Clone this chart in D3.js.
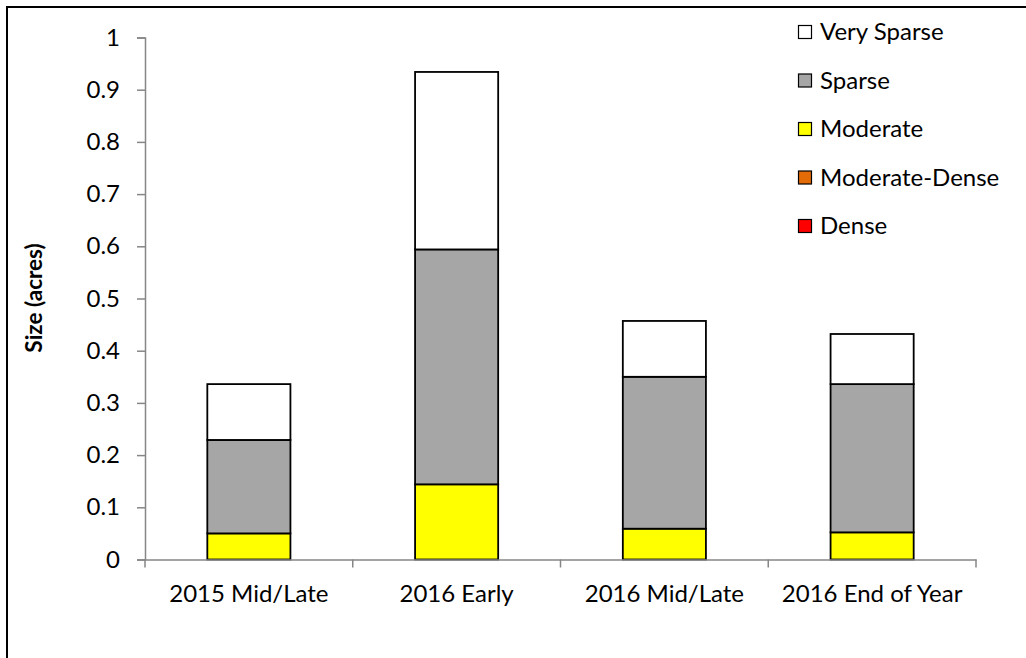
<!DOCTYPE html>
<html>
<head>
<meta charset="utf-8">
<script src="https://cdn.jsdelivr.net/npm/d3@7"></script>
<style>
  html, body { margin: 0; padding: 0; background: #fff; }
  svg { display: block; }
  text { font-family: Lato, "Liberation Sans", sans-serif; fill: #000; }
</style>
</head>
<body>
<svg id="chart" width="1026" height="658"></svg>
<script>
const categories = ["2015 Mid/Late", "2016 Early", "2016 Mid/Late", "2016 End of Year"];
const seriesNames = ["Dense", "Moderate-Dense", "Moderate", "Sparse", "Very Sparse"];
const dense        = [0, 0, 0, 0];
const moderateDense= [0, 0, 0, 0];
const moderate     = [0.050, 0.144, 0.059, 0.052];
const sparse       = [0.179, 0.450, 0.291, 0.284];
const verySparse   = [0.107, 0.340, 0.107, 0.096];
const yTicks = [0, 0.1, 0.2, 0.3, 0.4, 0.5, 0.6, 0.7, 0.8, 0.9, 1];
const legendOrder = ["Very Sparse", "Sparse", "Moderate", "Moderate-Dense", "Dense"];
const colors = {
  "Dense": "#ff0000",
  "Moderate-Dense": "#e36c09",
  "Moderate": "#ffff00",
  "Sparse": "#a6a6a6",
  "Very Sparse": "#ffffff"
};

const seriesValues = {
  "Dense": dense, "Moderate-Dense": moderateDense, "Moderate": moderate,
  "Sparse": sparse, "Very Sparse": verySparse
};
const table = categories.map((c, i) => {
  const row = { category: c };
  seriesNames.forEach(s => row[s] = seriesValues[s][i]);
  return row;
});

const svg = d3.select("#chart");

// outer border
svg.append("rect").attr("x", 7).attr("y", 7).attr("width", 1040).attr("height", 670)
  .attr("fill", "none").attr("stroke", "#000").attr("stroke-width", 2);

const x = d3.scaleBand().domain(categories).range([145, 976]).paddingInner(0.6).paddingOuter(0.3);
const y = d3.scaleLinear().domain([0, 1]).range([559.5, 37.5]);

const stack = d3.stack().keys(seriesNames);
const stacked = stack(table);

const g = svg.append("g");
stacked.forEach(layer => {
  g.selectAll(null).data(layer.filter(d => d[1] - d[0] > 0)).enter().append("rect")
    .attr("x", d => x(d.data.category))
    .attr("width", x.bandwidth())
    .attr("y", d => y(d[1]))
    .attr("height", d => y(d[0]) - y(d[1]))
    .attr("fill", colors[layer.key])
    .attr("stroke", "#000")
    .attr("stroke-width", 1.8);
});

// Y axis
const yAxis = d3.axisLeft(y).tickValues(yTicks).tickSize(8).tickPadding(17)
  .tickFormat(d => String(+d.toFixed(1)));
const yg = svg.append("g").attr("transform", "translate(145,0)").call(yAxis);
yg.select(".domain").attr("stroke", "#868686").attr("stroke-width", 1.5);
yg.selectAll(".tick line").attr("stroke", "#868686").attr("stroke-width", 1.5);
yg.selectAll(".tick text").attr("font-size", 24).attr("font-family", "Lato, 'Liberation Sans', sans-serif").attr("fill", "#000");

// X axis
const xAxis = d3.axisBottom(x).tickSize(0).tickPadding(0);
const xg = svg.append("g").attr("transform", "translate(0,559.5)").call(xAxis);
xg.select(".domain").attr("stroke", "#868686").attr("stroke-width", 1.5);
xg.selectAll(".tick text").attr("font-size", 24).attr("font-family", "Lato, 'Liberation Sans', sans-serif")
  .attr("fill", "#000").attr("dy", null).attr("y", 42);
// boundary ticks between categories
const step = x.step();
const boundaries = d3.range(categories.length + 1).map(i => i === 0 ? x.range()[0] : x(categories[i - 1]) + x.bandwidth() + step * x.paddingInner() / 2);
boundaries[boundaries.length - 1] = x.range()[1];
xg.selectAll(".btick").data(boundaries).enter().append("line")
  .attr("x1", d => d).attr("x2", d => d).attr("y1", 0).attr("y2", 8)
  .attr("stroke", "#868686").attr("stroke-width", 1.5);

// Y label
svg.append("text").attr("transform", "translate(42,298) rotate(-90)")
  .attr("text-anchor", "middle").attr("font-size", 22.5).attr("font-weight", "bold")
  .text("Size (acres)");

// Legend
const legend = svg.append("g");
const rowY = d3.scalePoint().domain(legendOrder).range([32, 226]);
legendOrder.forEach(name => {
  const cy = rowY(name);
  legend.append("rect").attr("x", 798.5).attr("y", cy - 6.5).attr("width", 13).attr("height", 13)
    .attr("fill", colors[name]).attr("stroke", "#000").attr("stroke-width", 1.2);
  legend.append("text").attr("x", 820).attr("y", cy).attr("dy", "0.35em")
    .attr("font-size", 24).text(name);
});
</script>
</body>
</html>
